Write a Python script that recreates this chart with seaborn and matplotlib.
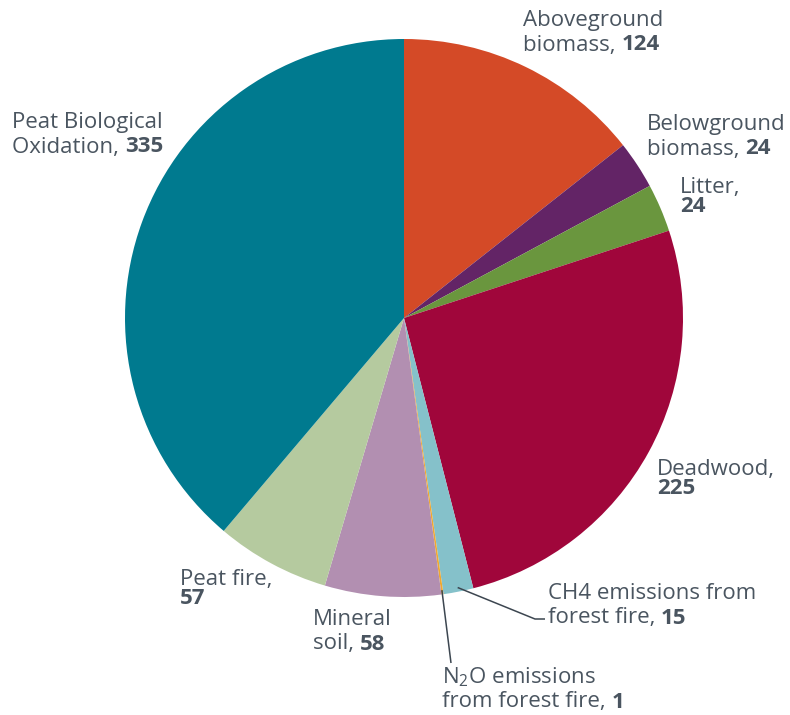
import matplotlib.pyplot as plt
import numpy as np
import seaborn as sns

# slice data, clockwise from 12 o'clock
CATEGORIES = [
    "Aboveground biomass", "Belowground biomass", "Litter", "Deadwood",
    "CH4 emissions from forest fire", "N2O emissions from forest fire",
    "Mineral soil", "Peat fire", "Peat Biological Oxidation",
]
VALUES = [124, 24, 24, 225, 15, 1, 58, 57, 335]
COLORS = ["#D44A27", "#632466", "#6A963E", "#A0063B", "#85C1CA",
          "#F0A830", "#B28FB1", "#B5CA9F", "#007A8F"]

# label text: first line, second line prefix (value appended in bold)
LABEL_LINES = [
    ("Aboveground", "biomass, "),
    ("Belowground", "biomass, "),
    ("Litter,", ""),
    ("Deadwood,", ""),
    ("CH4 emissions from", "forest fire, "),
    ("N$_2$O emissions", "from forest fire, "),
    ("Mineral", "soil, "),
    ("Peat fire,", ""),
    ("Peat Biological", "Oxidation, "),
]

W, H = 790, 715
CENTER = (404, 318)  # pixels from top-left
RADIUS = 279
TEXT_COLOR = "#4A5560"
FONT_SIZE = 16
LINE_GAP = 24.5

# left x and first-line baseline y (pixels from top-left)
LABEL_POS = [(523, 26), (647, 130), (680, 193), (657, 475), (548, 599),
             (442, 683), (313, 625), (180, 585), (12, 128)]
# leader lines: label-side end points (pixels), None = no leader
LEADERS = [None, None, None, None, [(535, 619), (545, 619)],
           [(451, 663)], None, None, None]


def py(y):
    return H - y


def main():
    sns.set_theme(style="white")
    plt.rcParams["font.family"] = ["Open Sans", "DejaVu Sans"]
    plt.rcParams["mathtext.fontset"] = "custom"
    plt.rcParams["mathtext.rm"] = "Open Sans"

    fig = plt.figure(figsize=(W / 100, H / 100), dpi=100)
    ax = fig.add_axes([0, 0, 1, 1])

    wedges, _ = ax.pie(
        VALUES, colors=COLORS, startangle=90, counterclock=False,
        center=(CENTER[0], py(CENTER[1])), radius=RADIUS,
        wedgeprops={"linewidth": 0}, frame=True,
    )
    ax.set_xlim(0, W)
    ax.set_ylim(0, H)
    ax.set_aspect("equal")
    ax.axis("off")

    for i, (line1, line2) in enumerate(LABEL_LINES):
        x, y = LABEL_POS[i]
        ax.text(x, py(y), line1, fontsize=FONT_SIZE, color=TEXT_COLOR,
                ha="left", va="baseline")
        prefix = ax.text(x, py(y + LINE_GAP), line2, fontsize=FONT_SIZE,
                         color=TEXT_COLOR, ha="left", va="baseline")
        ax.annotate(str(VALUES[i]), xy=(1, 0), xycoords=prefix,
                    xytext=(0, 0), textcoords="offset points",
                    fontsize=FONT_SIZE, fontweight="bold", color=TEXT_COLOR,
                    ha="left", va="bottom")

        if LEADERS[i] is not None:
            w = wedges[i]
            mid = np.deg2rad((w.theta1 + w.theta2) / 2)
            r = RADIUS * 0.985
            sx = CENTER[0] + r * np.cos(mid)
            sy = CENTER[1] - r * np.sin(mid)
            pts = [(sx, sy)] + LEADERS[i]
            ax.plot([p[0] for p in pts], [py(p[1]) for p in pts],
                    color="#3C4650", lw=1.1, solid_capstyle="butt")

    fig.savefig("out.png", dpi=100)


if __name__ == "__main__":
    main()
